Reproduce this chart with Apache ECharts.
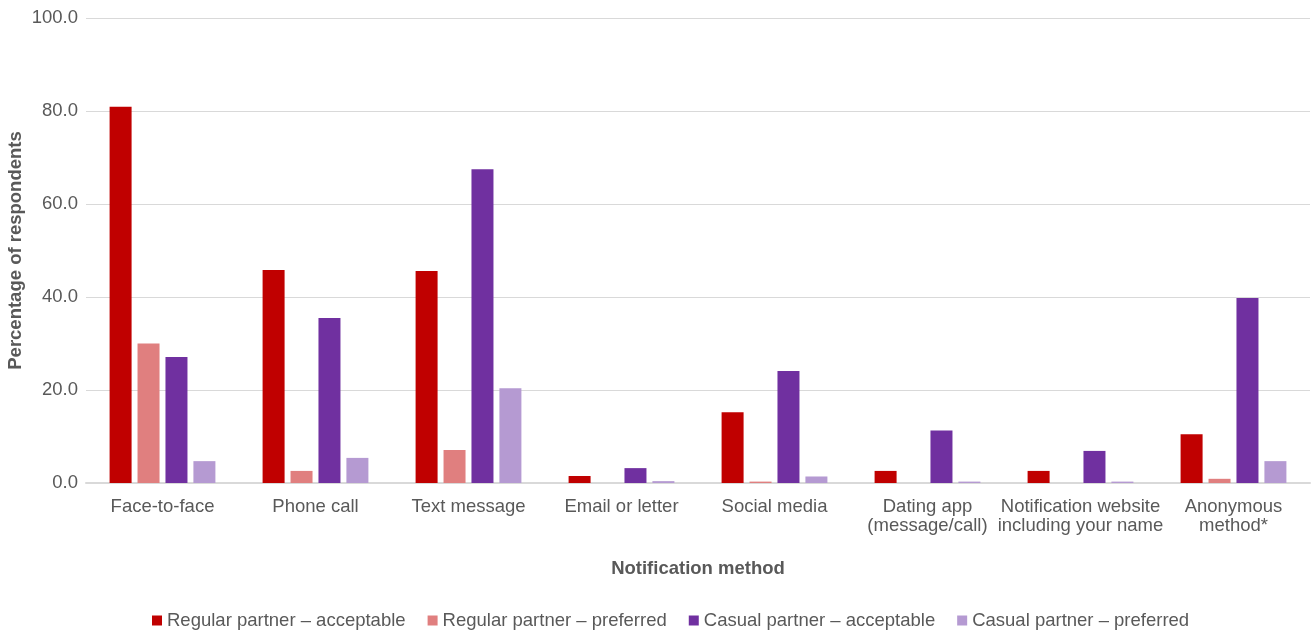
<!DOCTYPE html>
<html><head><meta charset="utf-8">
<script src="https://cdn.jsdelivr.net/npm/echarts@6/dist/echarts.min.js"></script>
<style>html,body{margin:0;padding:0;background:#fff}#c{width:1311px;height:631px}</style>
</head><body><div id="c"></div>
<script>
const categories = ["Face-to-face","Phone call","Text message","Email or letter","Social media","Dating app\n(message/call)","Notification website\nincluding your name","Anonymous\nmethod*"];
const seriesNames = ["Regular partner \u2013 acceptable","Regular partner \u2013 preferred","Casual partner \u2013 acceptable","Casual partner \u2013 preferred"];
const regularAcceptable = [80.9, 45.8, 45.6, 1.5, 15.2, 2.6, 2.6, 10.5];
const regularPreferred  = [30.0, 2.6, 7.1, 0.0, 0.3, 0.0, 0.0, 0.9];
const casualAcceptable  = [27.1, 35.5, 67.5, 3.2, 24.1, 11.3, 6.9, 39.8];
const casualPreferred   = [4.7, 5.4, 20.4, 0.4, 1.4, 0.3, 0.3, 4.7];
const yTicks = [0, 20, 40, 60, 80, 100];

const colors = ["#C00000","#E07F7F","#7030A0","#B59AD2"];
const font = "Liberation Sans, Arial, sans-serif";
const fs = 18.5;
const values = [regularAcceptable, regularPreferred, casualAcceptable, casualPreferred];
const chart = echarts.init(document.getElementById('c'), null, {renderer:'canvas'});
chart.setOption({
  animation:false,
  textStyle:{fontFamily:font},
  grid:{left:86, right:1, top:18, bottom:148, containLabel:false, outerBoundsMode:'none'},
  legend:{
    top:611, left:152, padding:0, icon:'rect', itemWidth:10, itemHeight:10, itemGap:22,
    textStyle:{fontSize:fs, color:'#595959', fontFamily:font},
    data:seriesNames
  },
  xAxis:{
    type:'category', data:categories,
    name:'Notification method', nameLocation:'middle', nameGap:76, nameMoveOverlap:false,
    nameTextStyle:{fontSize:fs, fontWeight:'bold', color:'#595959', fontFamily:font},
    axisLine:{lineStyle:{color:'#D9D9D9', width:2}},
    axisTick:{show:false},
    axisLabel:{fontSize:fs, color:'#595959', margin:14, lineHeight:19, interval:0, fontFamily:font}
  },
  yAxis:{
    type:'value', min:yTicks[0], max:yTicks[yTicks.length-1], interval:20,
    name:'Percentage of respondents', nameLocation:'middle', nameGap:61, nameMoveOverlap:false,
    nameTextStyle:{fontSize:fs, fontWeight:'bold', color:'#595959', fontFamily:font},
    axisLine:{show:false}, axisTick:{show:false},
    splitLine:{lineStyle:{color:'#D9D9D9', width:1}},
    axisLabel:{fontSize:fs, color:'#595959', margin:8, formatter:v=>v.toFixed(1), fontFamily:font}
  },
  series: seriesNames.map((n,i)=>({
    name:n, type:'bar', data:values[i], barWidth:22, barGap:'27%',
    itemStyle:{color:colors[i]}
  }))
});
</script></body></html>
